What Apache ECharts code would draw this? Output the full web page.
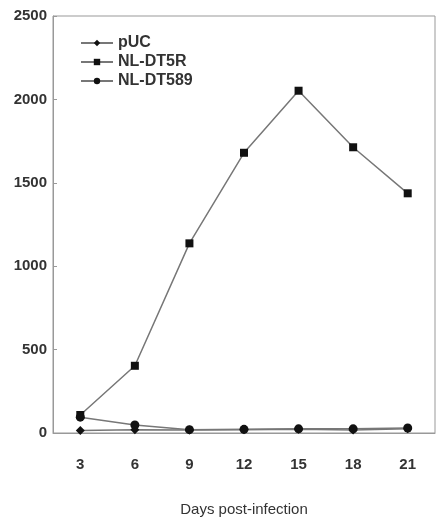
<!DOCTYPE html>
<html>
<head>
<meta charset="utf-8">
<script src="https://cdn.jsdelivr.net/npm/echarts@6/dist/echarts.min.js"></script>
<style>
  html, body { margin: 0; padding: 0; background: #fff; }
  #main { width: 438px; height: 517px; }
</style>
</head>
<body>
<div id="main"></div>
<script>
// days post-infection
const days = ['3', '6', '9', '12', '15', '18', '21']
// series values
const pUC = [15, 20, 18, 20, 22, 18, 25]
const nlDT5R = [108, 403, 1137, 1680, 2052, 1713, 1437]
const nlDT589 = [95, 48, 20, 22, 25, 25, 30]
const yTicks = [0, 500, 1000, 1500, 2000, 2500]

const font = 'Liberation Sans'
const textColor = '#333'
const lineColor = '#777'
const markColor = '#111'

function makeSeries(name, data, symbol, size) {
  return {
    name,
    type: 'line',
    data,
    symbol,
    symbolSize: size,
    lineStyle: { color: lineColor, width: 1.5 },
    itemStyle: { color: markColor },
    emphasis: { disabled: true },
    animation: false,
  }
}

const chart = echarts.init(document.getElementById('main'))
chart.setOption({
  backgroundColor: '#fff',
  grid: {
    left: 53,
    right: 3,
    top: 16,
    bottom: 84,
    containLabel: false,
    outerBoundsMode: 'none',
    show: true,
    borderColor: '#999',
    borderWidth: 1,
  },
  legend: {
    orient: 'vertical',
    left: 75,
    top: 30,
    itemWidth: 32,
    itemHeight: 8,
    itemGap: 3,
    textStyle: { fontFamily: font, fontSize: 16, color: textColor, fontWeight: 'bold' },
    data: ['pUC', 'NL-DT5R', 'NL-DT589'],
  },
  xAxis: {
    type: 'category',
    data: days,
    boundaryGap: true,
    name: 'Days post-infection',
    nameLocation: 'middle',
    nameGap: 69,
    nameTextStyle: { fontFamily: font, fontSize: 15, color: textColor },
    axisLine: { lineStyle: { color: '#999', width: 1 } },
    axisTick: { inside: true, length: 4, lineStyle: { color: '#999' } },
    axisLabel: { fontFamily: font, fontSize: 15, color: textColor, fontWeight: 'bold', margin: 24 },
    splitLine: { show: false },
  },
  yAxis: {
    type: 'value',
    min: yTicks[0],
    max: yTicks[yTicks.length - 1],
    interval: 500,
    axisLine: { show: true, lineStyle: { color: '#999', width: 1 } },
    axisTick: { show: true, inside: true, length: 4, lineStyle: { color: '#999' } },
    axisLabel: {
      fontFamily: font, fontSize: 15, color: textColor, fontWeight: 'bold', margin: 6,
      formatter: (v) => String(v),
    },
    splitLine: { show: false },
  },
  series: [
    makeSeries('pUC', pUC, 'diamond', 9),
    makeSeries('NL-DT5R', nlDT5R, 'rect', 8),
    makeSeries('NL-DT589', nlDT589, 'circle', 9),
  ],
})
</script>
</body>
</html>
